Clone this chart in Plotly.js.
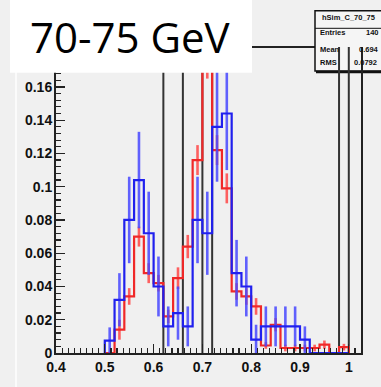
<!DOCTYPE html>
<html>
<head>
<meta charset="utf-8">
<script src="https://cdn.plot.ly/plotly-3.0.1.min.js"></script>
<style>html,body{margin:0;padding:0;background:#f0f0f0;}#chart{width:381px;height:387px;}</style>
</head>
<body>
<div id="chart"></div>
<script>
// ---- data ----
const binCenters = [0.51,0.53,0.55,0.57,0.59,0.61,0.63,0.65,0.67,0.69,0.71,0.73,0.75,0.77,0.79,0.81,0.83,0.85,0.87,0.89,0.91,0.93,0.95,0.97,0.99];
const binWidth = 0.02;
const blueValues = [0.0074,0.032,0.080,0.104,0.072,0.040,0.016,0.024,0.016,0.080,0.072,0.136,0.144,0.048,0.040,0.008,0.016,0.016,0.016,0.016,0.008,0,0,0,0];
const blueErrors = [0.008,0.016,0.026,0.029,0.025,0.018,0.012,0.016,0.012,0.026,0.025,0.033,0.034,0.020,0.018,0.009,0.012,0.012,0.012,0.012,0.008,0,0,0,0];
const redValues  = [0,0.014,0.034,0.070,0.048,0.042,0.022,0.045,0.064,0.116,0.175,0.122,0.099,0.037,0.034,0.028,0.0045,0.017,0.003,0.003,0.003,0.003,0.005,0,0.0035];
const redErrors  = [0,0.006,0.005,0.006,0.006,0.005,0.004,0.0065,0.007,0.009,0.010,0.009,0.009,0.005,0.005,0.005,0.002,0.004,0.002,0.002,0.002,0.002,0.0025,0,0.002];
const blackLineX = [0.62,0.66,0.70,0.72,0.98,1.00];
const xTickVals = [0.4,0.5,0.6,0.7,0.8,0.9,1.0];
const yTickVals = [0,0.02,0.04,0.06,0.08,0.10,0.12,0.14,0.16];
const panelLabel = "70-75 GeV";
const statsTitle = "hSim_C_70_75";
const statsNames = ["Entries","Mean","RMS"];
const statsValues = ["140","0.694","0.0792"];
const yMax = 0.184;
const xRange = [0.4, 1.025];

// ---- helpers ----
function stepTrace(vals, color) {
  const xs = [], ys = [];
  const e0 = binCenters[0] - binWidth/2;
  xs.push(e0); ys.push(0);
  for (let i = 0; i < binCenters.length; i++) {
    xs.push(binCenters[i] - binWidth/2); ys.push(vals[i]);
  }
  const eN = binCenters[binCenters.length-1] + binWidth/2;
  xs.push(eN); ys.push(vals[vals.length-1]);
  xs.push(eN); ys.push(0);
  return {x: xs, y: ys, type:'scatter', mode:'lines', line:{shape:'hv', color: color, width:2.2}, hoverinfo:'skip', showlegend:false};
}
function errTrace(vals, errs, color) {
  const xs = [], ys = [], es = [];
  for (let i = 0; i < vals.length; i++) {
    if (errs[i] > 0) { xs.push(binCenters[i]); ys.push(vals[i]); es.push(errs[i]); }
  }
  return {x: xs, y: ys, type:'scatter', mode:'markers', marker:{size:1, color:'rgba(0,0,0,0)'},
    error_y:{type:'data', array: es, visible:true, color: color, thickness:2.6, width:0},
    hoverinfo:'skip', showlegend:false, cliponaxis:true};
}
const bx = [], by = [];
blackLineX.forEach(v => { bx.push(v, v, null); by.push(0, yMax, null); });

const traces = [
  {x: bx, y: by, type:'scatter', mode:'lines', line:{color:'#333333', width:2}, hoverinfo:'skip', showlegend:false},
  errTrace(redValues, redErrors, 'rgba(255,70,70,0.85)'),
  stepTrace(redValues, '#f02828'),
  errTrace(blueValues, blueErrors, 'rgba(70,70,255,0.85)'),
  stepTrace(blueValues, '#2020ee')
];

// pixel -> paper helpers (plot area: x 56..361, y 47..353)
const L = 56, R = 20, T = 47, B = 34, W = 381, H = 387;
const pw = W - L - R, ph = H - T - B;
const px = p => (p - L) / pw;
const py = p => (H - B - p) / ph;

const tickFont = {family:'Liberation Sans, Arial, sans-serif', size:14, color:'#111', weight:'bold'};
const statFont = {family:'Liberation Sans, Arial, sans-serif', size:7.5, color:'#111', weight:'bold'};

const annotations = [
  {xref:'paper', yref:'paper', x: px(28), y: py(37), xanchor:'left', yanchor:'middle', showarrow:false,
   text: panelLabel, font:{family:'Open Sans, sans-serif', size:42, color:'#000'}},
  {xref:'paper', yref:'paper', x: px(320), y: py(17.5), xanchor:'left', yanchor:'middle', showarrow:false, text: statsTitle, font: statFont}
];
const rowY = [33, 49.5, 62];
const valX = [364, 357, 352];
statsNames.forEach((n, i) => {
  annotations.push({xref:'paper', yref:'paper', x: px(318), y: py(rowY[i]), xanchor:'left', yanchor:'middle', showarrow:false, text: n, font: statFont});
  annotations.push({xref:'paper', yref:'paper', x: px(valX[i]), y: py(rowY[i]), xanchor:'left', yanchor:'middle', showarrow:false, text: statsValues[i], font: statFont});
});

const shapes = [
  {type:'line', xref:'paper', yref:'paper', x0: px(16), x1: px(16), y0: py(387), y1: py(0), line:{color:'#ffffff', width:1.5}, layer:'below'},
  {type:'line', xref:'paper', yref:'paper', x0: 0, x1: px(315), y0: 1, y1: 1, line:{color:'#222', width:2}, layer:'below'},
  {type:'rect', xref:'paper', yref:'paper', x0: px(315), x1: px(420), y0: py(71), y1: py(10.7), fillcolor:'#f5f5f5', line:{color:'#111', width:1.5}, layer:'below'},
  {type:'line', xref:'paper', yref:'paper', x0: px(315), x1: px(420), y0: py(28.3), y1: py(28.3), line:{color:'#111', width:1}, layer:'below'},
  {type:'line', xref:'paper', yref:'paper', x0: px(316), x1: px(420), y0: py(72), y1: py(72), line:{color:'#111', width:2.5}, layer:'below'},
  {type:'rect', xref:'paper', yref:'paper', x0: px(10), x1: px(252), y0: py(72.7), y1: py(-2), fillcolor:'#ffffff', line:{width:0}, layer:'above'}
];

const layout = {
  width: W, height: H,
  margin: {l: L, r: R, t: T, b: B, pad: 0},
  paper_bgcolor: '#f0f0f0',
  plot_bgcolor: '#f0f0f0',
  showlegend: false,
  xaxis: {
    range: xRange, showgrid:false, zeroline:false,
    showline:true, linecolor:'#222', linewidth:2, mirror:false,
    ticks:'inside', ticklen:9, tickwidth:1.3, tickcolor:'#222',
    tickmode:'array', tickvals: xTickVals, ticktext: xTickVals.map(v => String(+v.toFixed(1))),
    tickfont: tickFont, ticklabelstandoff: 0,
    minor: {dtick:0.0125, tick0:0.4, ticks:'inside', ticklen:5, tickwidth:1.2, tickcolor:'#222', showgrid:false}
  },
  yaxis: {
    range: [0, yMax], showgrid:false, zeroline:false,
    showline:true, linecolor:'#222', linewidth:2, mirror:true,
    ticks:'inside', ticklen:9, tickwidth:1.3, tickcolor:'#222',
    tickmode:'array', tickvals: yTickVals, ticktext: yTickVals.map(v => String(+v.toFixed(2))),
    tickfont: tickFont, ticklabelstandoff: -1,
    minor: {dtick:0.004, tick0:0, ticks:'inside', ticklen:5, tickwidth:1.2, tickcolor:'#222', showgrid:false}
  },
  annotations: annotations,
  shapes: shapes
};

Plotly.newPlot('chart', traces, layout, {staticPlot:true, displayModeBar:false});
</script>
</body>
</html>
